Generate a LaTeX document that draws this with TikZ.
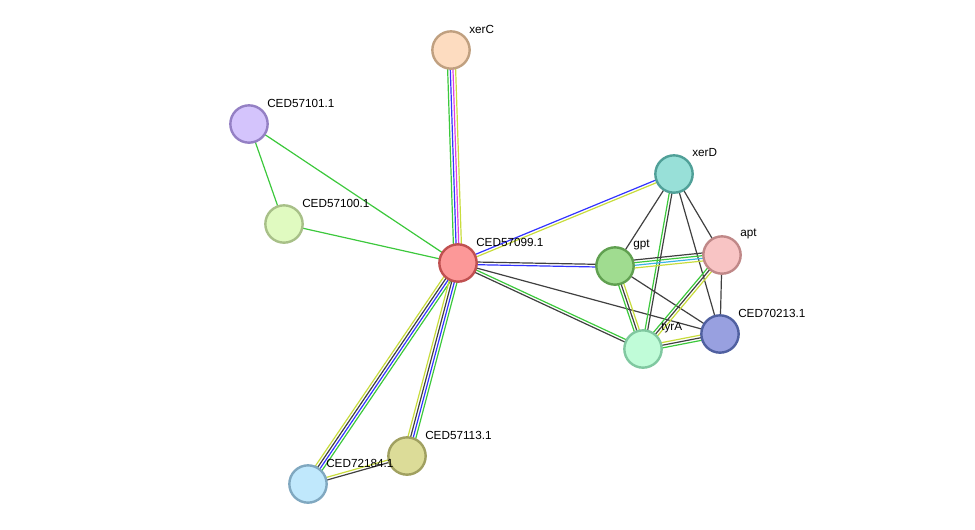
\documentclass[tikz,border=0pt]{standalone}
\usepackage{fontspec}
\setmainfont{Liberation Sans}
\usetikzlibrary{calc,backgrounds}

\definecolor{grn}{HTML}{3CC83C}
\definecolor{blu}{HTML}{3333FF}
\definecolor{mag}{HTML}{E040E0}
\definecolor{yel}{HTML}{C8DC3C}
\definecolor{cyn}{HTML}{3CB4E6}
\definecolor{blk}{HTML}{404040}

% one link = several parallel lines, one per evidence colour
\newcommand{\lnk}[3]{%
  \foreach \c [count=\k] in {#3}{\xdef\nlines{\k}}%
  \foreach \c [count=\i] in {#3}{%
    \pgfmathsetmacro{\off}{(\i-(\nlines+1)/2)*2}
    \draw[edge,\c] ($(#1)!\off pt!90:(#2)$) -- ($(#2)!\off pt!-90:(#1)$);
  }}

\begin{document}
\begin{tikzpicture}[x=0.75pt, y=-0.75pt,
  prot/.style={circle, minimum size=28pt, inner sep=0pt, line width=1.8pt},
  lbl/.style={anchor=west, inner sep=0pt, font=\fontsize{8.8}{10}\selectfont},
  edge/.style={line width=0.9pt}]
\useasboundingbox (0,0) rectangle (975,529);

% proteins
\node[prot, fill={rgb,255:red,253;green,220;blue,192}, draw={rgb,255:red,192;green,160;blue,128}] (xerC) at (451,50) {};
\node[prot, fill={rgb,255:red,212;green,196;blue,252}, draw={rgb,255:red,148;green,128;blue,196}] (c101) at (249,124) {};
\node[prot, fill={rgb,255:red,224;green,250;blue,192}, draw={rgb,255:red,168;green,192;blue,136}] (c100) at (284,224) {};
\node[prot, fill={rgb,255:red,252;green,152;blue,152}, draw={rgb,255:red,192;green,80;blue,80}] (c99) at (458,263) {};
\node[prot, fill={rgb,255:red,152;green,224;blue,216}, draw={rgb,255:red,80;green,160;blue,152}] (xerD) at (674,174) {};
\node[prot, fill={rgb,255:red,160;green,220;blue,144}, draw={rgb,255:red,96;green,160;blue,80}] (gpt) at (615,266) {};
\node[prot, fill={rgb,255:red,248;green,196;blue,196}, draw={rgb,255:red,192;green,136;blue,136}] (apt) at (722,255) {};
\node[prot, fill={rgb,255:red,152;green,160;blue,224}, draw={rgb,255:red,80;green,96;blue,160}] (c213) at (720,334) {};
\node[prot, fill={rgb,255:red,192;green,252;blue,216}, draw={rgb,255:red,128;green,200;blue,160}] (tyrA) at (643,349) {};
\node[prot, fill={rgb,255:red,192;green,232;blue,252}, draw={rgb,255:red,128;green,168;blue,192}] (c184) at (308,484) {};
\node[prot, fill={rgb,255:red,220;green,220;blue,152}, draw={rgb,255:red,160;green,160;blue,96}] (c113) at (407,456) {};

% links
\begin{scope}[on background layer]
\lnk{c99}{xerC}{yel,mag,blu,grn}
\lnk{c101}{c99}{grn}
\lnk{c101}{c100}{grn}
\lnk{c100}{c99}{grn}
\lnk{c99}{xerD}{yel,blu}
\lnk{c99}{gpt}{blu,blk}
\lnk{c99}{c213}{blk}
\lnk{c99}{tyrA}{blk,grn}
\lnk{c99}{c184}{yel,blk,blu,grn}
\lnk{c99}{c113}{yel,blk,blu,grn}
\lnk{c184}{c113}{blk,yel}
\lnk{xerD}{gpt}{blk}
\lnk{xerD}{tyrA}{grn,blk}
\lnk{xerD}{apt}{blk}
\lnk{xerD}{c213}{blk}
\lnk{gpt}{apt}{yel,cyn,grn,blk}
\lnk{gpt}{tyrA}{grn,blk,yel}
\lnk{gpt}{c213}{blk}
\lnk{apt}{tyrA}{grn,blk,yel}
\lnk{apt}{c213}{blk}
\lnk{tyrA}{c213}{grn,blk,yel}
\end{scope}

% names
\node[lbl] (xerCl) at ($(xerC)+(18,-21)$) {xerC};
\node[lbl] (c101l) at ($(c101)+(18,-21)$) {CED57101.1};
\node[lbl] (c100l) at ($(c100)+(18,-21)$) {CED57100.1};
\node[lbl] (c99l) at ($(c99)+(18,-21)$) {CED57099.1};
\node[lbl] (xerDl) at ($(xerD)+(18,-21)$) {xerD};
\node[lbl] (gptl) at ($(gpt)+(18,-21)$) {gpt};
\node[lbl] (aptl) at ($(apt)+(18,-21)$) {apt};
\node[lbl] (c213l) at ($(c213)+(18,-21)$) {CED70213.1};
\node[lbl] (tyrAl) at ($(tyrA)+(18,-21)$) {tyrA};
\node[lbl] (c184l) at ($(c184)+(18,-21)$) {CED72184.1};
\node[lbl] (c113l) at ($(c113)+(18,-21)$) {CED57113.1};
\end{tikzpicture}
\end{document}
